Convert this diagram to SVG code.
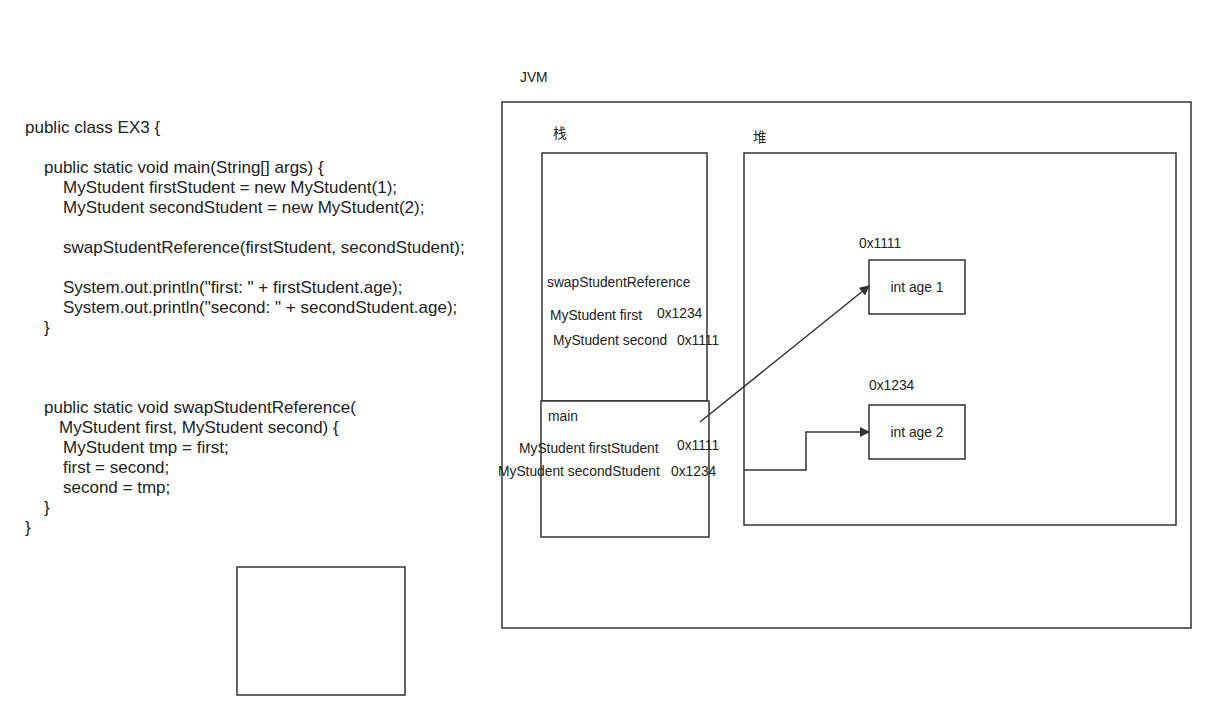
<svg xmlns="http://www.w3.org/2000/svg" width="1216" height="721" viewBox="0 0 1216 721">
<defs>
<style>
.box{fill:#fff;stroke:#333;stroke-width:1.5}
.code{font-family:"Liberation Sans",Arial,sans-serif;font-size:17px;fill:#222}
.lbl{font-family:"Liberation Sans",Arial,sans-serif;font-size:13.8px;fill:#222}
.cjk{font-family:"Liberation Sans","Noto Sans CJK SC",sans-serif;font-size:13.5px;fill:#222}
.conn{fill:none;stroke:#333;stroke-width:1.5}
</style>
<marker id="arr" viewBox="0 0 10 10" refX="9" refY="5" markerWidth="10" markerHeight="10" markerUnits="userSpaceOnUse" orient="auto">
<path d="M0,0 L10,5 L0,10 Z" fill="#333"/>
</marker>
</defs>
<rect width="1216" height="721" fill="#fff"/>
<g id="code">
<text class="code" x="25" y="133">public class EX3 {</text>
<text class="code" x="44" y="173">public static void main(String[] args) {</text>
<text class="code" x="63" y="193">MyStudent firstStudent = new MyStudent(1);</text>
<text class="code" x="63" y="213">MyStudent secondStudent = new MyStudent(2);</text>
<text class="code" x="63" y="253">swapStudentReference(firstStudent, secondStudent);</text>
<text class="code" x="63" y="293">System.out.println("first: " + firstStudent.age);</text>
<text class="code" x="63" y="313">System.out.println("second: " + secondStudent.age);</text>
<text class="code" x="44" y="333">}</text>
<text class="code" x="44" y="413">public static void swapStudentReference(</text>
<text class="code" x="59" y="433">MyStudent first, MyStudent second) {</text>
<text class="code" x="63" y="453">MyStudent tmp = first;</text>
<text class="code" x="63" y="473">first = second;</text>
<text class="code" x="63" y="493">second = tmp;</text>
<text class="code" x="44" y="513">}</text>
<text class="code" x="25" y="533">}</text>
</g>
<g id="empty-box"><rect class="box" x="237" y="567" width="168" height="128"/></g>
<g id="jvm">
<rect class="box" x="502" y="102" width="689" height="526"/>
<text class="lbl" x="520" y="82">JVM</text>
</g>
<g id="stack">
<rect class="box" x="542" y="153" width="165" height="248"/>
<text class="cjk" x="553" y="138">栈</text>
</g>
<g id="swap-frame">
<text class="lbl" x="547" y="287">swapStudentReference</text>
<text class="lbl" x="550" y="320">MyStudent first</text>
<text class="lbl" x="657" y="318">0x1234</text>
<text class="lbl" x="553" y="345">MyStudent second</text>
<text class="lbl" x="677" y="345">0x1111</text>
</g>
<g id="main-frame">
<rect class="box" x="541" y="401" width="168" height="136"/>
<text class="lbl" x="548" y="421">main</text>
<text class="lbl" x="519" y="453">MyStudent firstStudent</text>
<text class="lbl" x="677" y="450">0x1111</text>
<text class="lbl" x="498" y="476">MyStudent secondStudent</text>
<text class="lbl" x="671" y="476">0x1234</text>
</g>
<g id="heap">
<rect class="box" x="744" y="153" width="432" height="372"/>
<text class="cjk" x="753" y="142">堆</text>
</g>
<g id="obj1">
<rect class="box" x="869" y="260" width="96" height="54"/>
<text class="lbl" x="859" y="248">0x1111</text>
<text class="lbl" x="917" y="292" text-anchor="middle">int age 1</text>
</g>
<g id="obj2">
<rect class="box" x="869" y="405" width="96" height="54"/>
<text class="lbl" x="869" y="390">0x1234</text>
<text class="lbl" x="917" y="437" text-anchor="middle">int age 2</text>
</g>
<g id="connectors">
<path class="conn" d="M700,422 L869,286" marker-end="url(#arr)"/>
<path class="conn" d="M744,470 L806,470 L806,432 L869,432" marker-end="url(#arr)"/>
</g>
</svg>
